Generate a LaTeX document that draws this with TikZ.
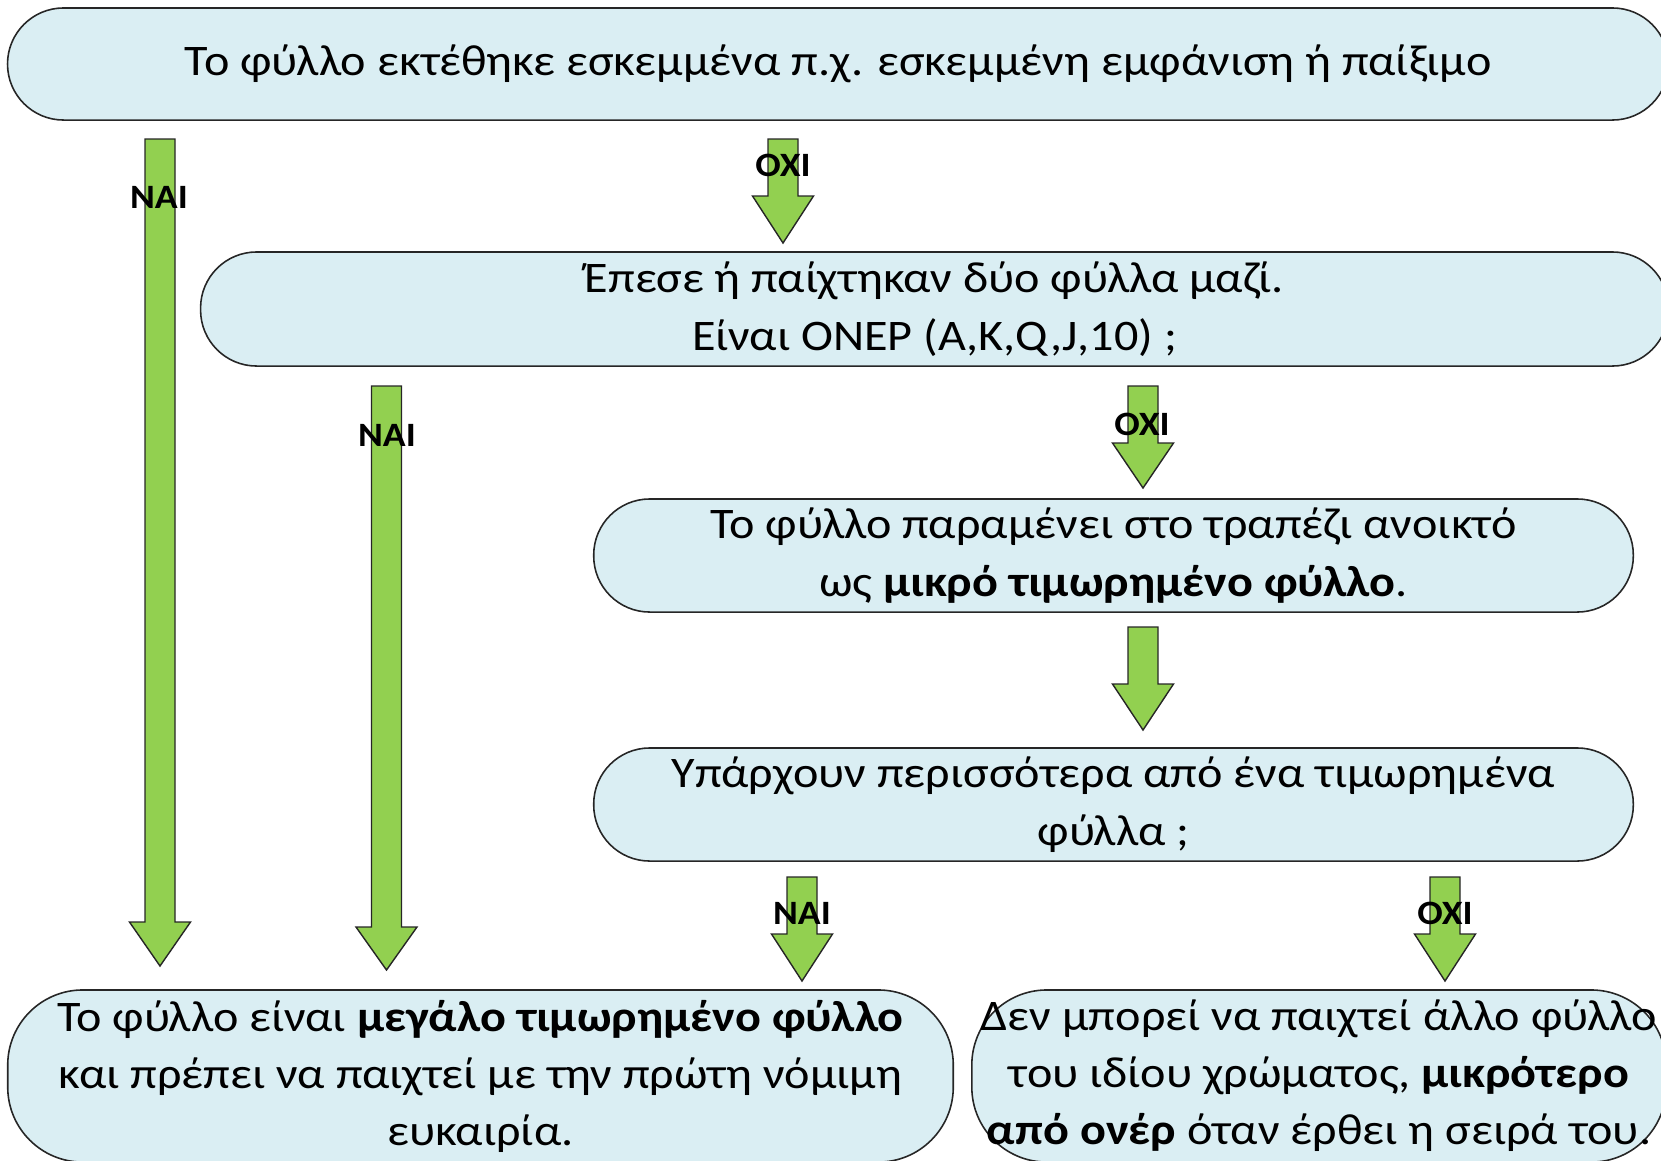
\documentclass[tikz,border=0pt]{standalone}
\usepackage{fontspec}
\setmainfont{Carlito}[FakeStretch=1.105]
\usepackage{tikz}
\definecolor{cardblue}{HTML}{DAEEF3}
\definecolor{leafgreen}{HTML}{92D050}
\tikzset{
	card/.style={draw=black!85, fill=cardblue, line width=0.45pt, rounded corners=0.56cm, inner sep=0pt, align=center, font=\fontsize{12.4}{16.6}\selectfont},
	bigcard/.style={card, rounded corners=0.75cm, font=\fontsize{12.4}{16.2}\selectfont},
	arrowbody/.style={draw=black!85, fill=leafgreen, line width=0.4pt},
	tag/.style={inner sep=0pt, font=\bfseries\fontsize{9.7}{11}\selectfont}
}
% x, top, start of head, tip (all in px, y downwards)
\def\blockarrow(#1:#2:#3:#4){\draw[arrowbody] ({#1-15},-#2) -- ({#1+15},-#2) -- ({#1+15},-#3) -- ({#1+30.5},-#3) -- (#1,-#4) -- ({#1-30.5},-#3) -- ({#1-15},-#3) -- cycle;}

\begin{document}
\begin{tikzpicture}[x=0.01cm, y=0.01cm]
		%%%%% START %%%%%
		\useasboundingbox (0,0) rectangle (1661,-1160);
		\clip (0,0) rectangle (1661,-1160);
		
		\node[card, minimum width=16.6cm, minimum height=1.12cm] (exposed) at (838,-64) {Το φύλλο εκτέθηκε εσκεμμένα π.χ. εσκεμμένη εμφάνιση ή παίξιμο};
		\node[card, minimum width=14.67cm, minimum height=1.14cm] (honour) at (934.5,-309) {Έπεσε ή παίχτηκαν δύο φύλλα μαζί.\\ Είναι ΟΝΕΡ (A,K,Q,J,10) ;};
		\node[card, minimum width=10.39cm, minimum height=1.13cm] (minor) at (1113.5,-555.5) {Το φύλλο παραμένει στο τραπέζι ανοικτό\\ ως \textbf{μικρό τιμωρημένο φύλλο}.};
		\node[card, minimum width=10.39cm, minimum height=1.13cm] (several) at (1113.5,-804.5) {Υπάρχουν περισσότερα από ένα τιμωρημένα\\ φύλλα ;};
		
		\node[bigcard, minimum width=9.45cm, minimum height=1.72cm] (major) at (480.5,-1076) {Το φύλλο είναι \textbf{μεγάλο τιμωρημένο φύλλο}\\ και πρέπει να παιχτεί με την πρώτη νόμιμη\\ ευκαιρία.};
		\node[bigcard, minimum width=6.94cm, minimum height=1.72cm] (single) at (1319,-1076) {Δεν μπορεί να παιχτεί άλλο φύλλο\\ του ιδίου χρώματος, \textbf{μικρότερο}\\ \textbf{από ονέρ} όταν έρθει η σειρά του.};
		
		\blockarrow(160:139:922:966)
		\blockarrow(783:139:196:243)
		\blockarrow(386.5:386:927:970)
		\blockarrow(1143:386:443:488)
		\blockarrow(1143:627:684:730)
		\blockarrow(802:877:934:981)
		\blockarrow(1445:877:934:981)
		
		\node[tag] (yes1) at (159,-197) {ΝΑΙ};
		\node[tag] (no1) at (783,-165) {ΟΧΙ};
		\node[tag] (yes2) at (387,-435) {ΝΑΙ};
		\node[tag] (no2) at (1142,-424) {ΟΧΙ};
		\node[tag] (yes3) at (802,-913) {ΝΑΙ};
		\node[tag] (no3) at (1445,-913) {ΟΧΙ};
		
		%%%%% END %%%%%
\end{tikzpicture}
\end{document}
